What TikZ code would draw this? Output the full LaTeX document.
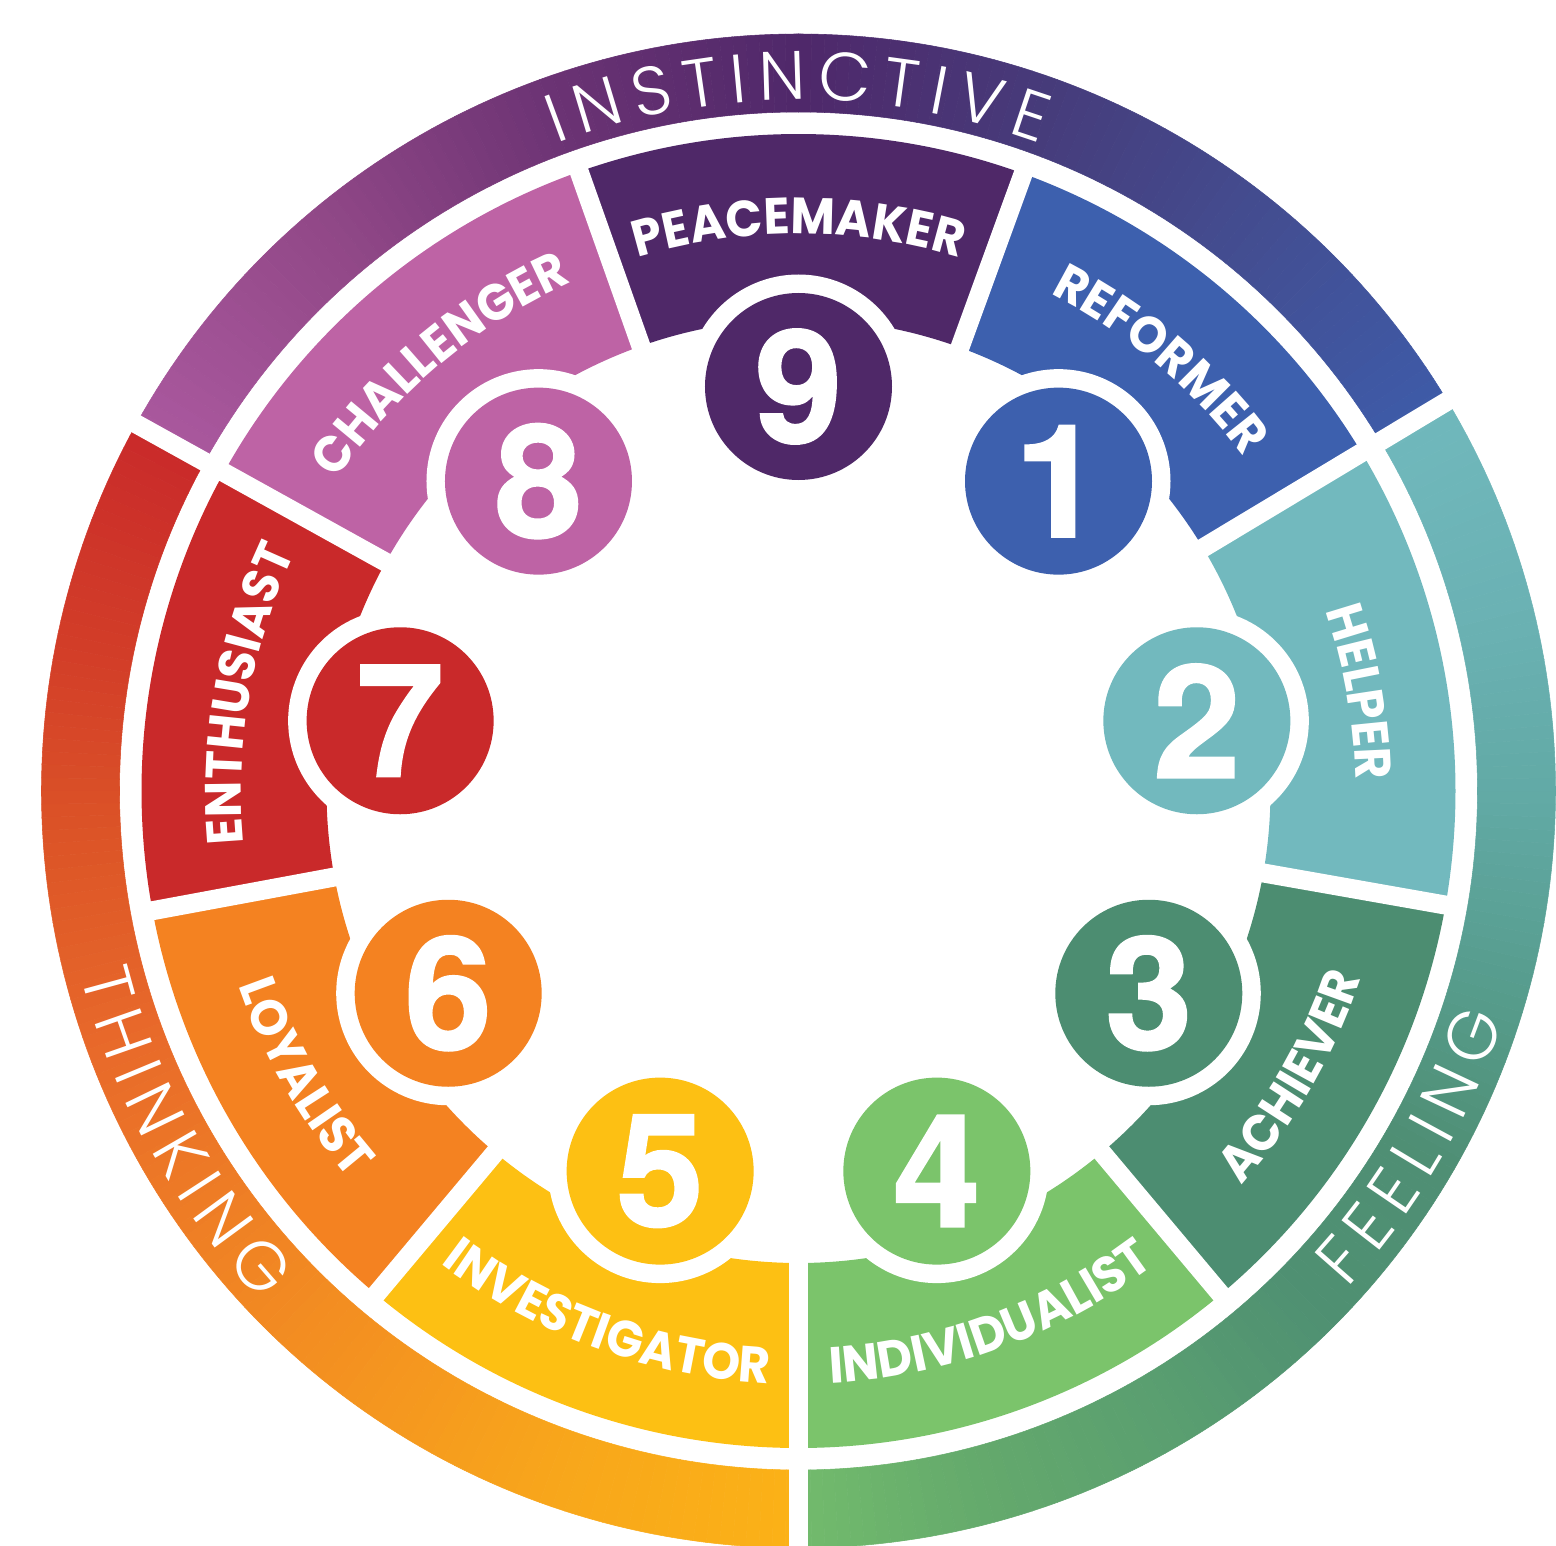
\documentclass[tikz,border=0pt]{standalone}
\usepackage{fontspec}
\usetikzlibrary{decorations.text}

\IfFontExistsTF{Poppins Bold}
  {\newfontfamily\segfont{Poppins Bold}[FakeStretch=0.95]}
  {\newfontfamily\segfont{Poppins}[FakeBold=1]}
\IfFontExistsTF{Poppins Light}
  {\newfontfamily\ringfont{Poppins Light}}
  {\newfontfamily\ringfont{Poppins}}
\newfontfamily\digitfont{texgyreheros-bold.otf}[FakeBold=1.5]

\newcommand\seglbl{\segfont\fontsize{29pt}{29pt}\selectfont}
\newcommand\ringlbl{\ringfont\fontsize{39pt}{39pt}\selectfont\kern2.2mm}
\newcommand\numfont{\digitfont\fontsize{89pt}{89pt}\selectfont}

% segment colours
\definecolor{peace}{HTML}{4F2868}
\definecolor{reform}{HTML}{3D60AE}
\definecolor{helper}{HTML}{72B9BE}
\definecolor{achieve}{HTML}{4C8D71}
\definecolor{individ}{HTML}{7BC46B}
\definecolor{investig}{HTML}{FDC013}
\definecolor{loyal}{HTML}{F48221}
\definecolor{enthus}{HTML}{C9292A}
\definecolor{challeng}{HTML}{BE63A5}
% outer ring stops
\definecolor{insA}{HTML}{AA589E}
\definecolor{insB}{HTML}{914887}
\definecolor{insC}{HTML}{6C3374}
\definecolor{insD}{HTML}{4F286A}
\definecolor{insE}{HTML}{463C7B}
\definecolor{insF}{HTML}{434E92}
\definecolor{insG}{HTML}{3E5BA8}
\definecolor{thkA}{HTML}{C92A2A}
\definecolor{thkB}{HTML}{D33F28}
\definecolor{thkC}{HTML}{DD5627}
\definecolor{thkD}{HTML}{E8692A}
\definecolor{thkE}{HTML}{F28A22}
\definecolor{thkF}{HTML}{F8A61B}
\definecolor{thkG}{HTML}{FBB217}
\definecolor{felA}{HTML}{72BB6C}
\definecolor{felB}{HTML}{64A96C}
\definecolor{felC}{HTML}{5A9F70}
\definecolor{felD}{HTML}{4F9072}
\definecolor{felE}{HTML}{4F8F74}
\definecolor{felF}{HTML}{579D8E}
\definecolor{felG}{HTML}{62AAA6}
\definecolor{felH}{HTML}{6BB2B4}
\definecolor{felI}{HTML}{70B8BC}

% radii (px)
\def\rRi{679}
\def\rRo{757}
\def\rSi{472}
\def\rSo{657}
\def\rN{404.5}

% angular gradient piece of the outer ring
\newcommand\ringgrad[4]{%
  \pgfmathtruncatemacro\gn{max(1,abs((#2)-(#1)))}
  \foreach \k in {1,...,\gn}{
    \pgfmathsetmacro\ga{(#1)+((#2)-(#1))*(\k-1)/\gn}
    \pgfmathsetmacro\gb{(#1)+((#2)-(#1))*\k/\gn}
    \pgfmathtruncatemacro\gp{100*(\k-0.5)/\gn}
    \colorlet{gcol}{#4!\gp!#3}
    \fill[gcol, draw=gcol, line width=0.3pt] (\ga:\rRi)
      arc[start angle=\ga, end angle=\gb, radius=\rRi] -- (\gb:\rRo)
      arc[start angle=\gb, end angle=\ga, radius=\rRo] -- cycle;
  }}

\begin{document}
\begin{tikzpicture}[x=0.2mm, y=0.2mm,
  gapline/.style={draw=white, line width=3.8mm},
  numdisc/.style={circle, minimum size=37.4mm, inner sep=0pt, text=white, font=\numfont},
  uplabel/.style={decorate, decoration={text along path, text align=center,
                  text color=white, text={|\seglbl|#1}}},
  downlabel/.style={uplabel=#1},
  ringlabel/.style={decorate, decoration={text along path, text align=center,
                    text color=white, text={|\ringlbl|#1}}}
]
\useasboundingbox (-798.5,-755) rectangle (757.5,791);

% outer ring
\ringgrad{151}{130}{insA}{insB}
\ringgrad{130}{110}{insB}{insC}
\ringgrad{110}{90}{insC}{insD}
\ringgrad{90}{70}{insD}{insE}
\ringgrad{70}{50}{insE}{insF}
\ringgrad{50}{31}{insF}{insG}
\ringgrad{151}{170}{thkA}{thkB}
\ringgrad{170}{185}{thkB}{thkC}
\ringgrad{185}{200}{thkC}{thkD}
\ringgrad{200}{225}{thkD}{thkE}
\ringgrad{225}{250}{thkE}{thkF}
\ringgrad{250}{270}{thkF}{thkG}
\ringgrad{-90}{-75}{felA}{felB}
\ringgrad{-75}{-60}{felB}{felC}
\ringgrad{-60}{-45}{felC}{felD}
\ringgrad{-45}{-30}{felD}{felE}
\ringgrad{-30}{-15}{felE}{felF}
\ringgrad{-15}{0}{felF}{felG}
\ringgrad{0}{15}{felG}{felH}
\ringgrad{15}{31}{felH}{felI}

% segments
\foreach \n/\sa/\sb/\c in {9/70/109.5/peace, 1/31/70/reform, 2/-10/31/helper,
    3/-50/-10/achieve, 4/-90/-50/individ, 5/-130/-90/investig,
    6/-169.5/-130/loyal, 7/151/190.5/enthus, 8/109.5/151/challeng}
  \fill[\c] (\sa:\rSi) arc[start angle=\sa, end angle=\sb, radius=\rSi]
    -- (\sb:\rSo) arc[start angle=\sb, end angle=\sa, radius=\rSo] -- cycle;

% white halos and gaps
\foreach \n in {1,...,9}
  \fill[white] ({90-40*\n}:\rN) circle[radius=112];
\foreach \g in {70,31,-10,-50,-90,-130,-169.5,151,109.5}
  \draw[gapline] (\g:455) -- (\g:668);
\foreach \g in {31,-90,151}
  \draw[gapline] (\g:660) -- (\g:775);

% number discs
\foreach \n/\c in {1/reform, 2/helper, 3/achieve, 4/individ, 5/investig,
    6/loyal, 7/enthus, 8/challeng, 9/peace}
  \node[numdisc, fill=\c] (num\n) at ({90-40*\n}:\rN) {\n};

% type labels
\path[uplabel=PEACEMAKER] (120:557) arc[start angle=120, end angle=60, radius=557];
\path[uplabel=REFORMER] (80:557) arc[start angle=80, end angle=20, radius=557];
\path[uplabel=HELPER] (40:557) arc[start angle=40, end angle=-20, radius=557];
\path[uplabel=ENTHUSIAST] (200:557) arc[start angle=200, end angle=140, radius=557];
\path[uplabel=CHALLENGER] (160:557) arc[start angle=160, end angle=100, radius=557];
\path[downlabel=ACHIEVER] (-60:593) arc[start angle=-60, end angle=0, radius=593];
\path[downlabel=INDIVIDUALIST] (-100:593) arc[start angle=-100, end angle=-40, radius=593];
\path[downlabel=INVESTIGATOR] (-140:593) arc[start angle=-140, end angle=-80, radius=593];
\path[downlabel=LOYALIST] (-180:593) arc[start angle=-180, end angle=-120, radius=593];

% centre labels
\path[ringlabel=INSTINCTIVE] (130.5:691) arc[start angle=130.5, end angle=50.5, radius=691];
\path[ringlabel=FEELING] (-70.5:741) arc[start angle=-70.5, end angle=9.5, radius=741];
\path[ringlabel=THINKING] (-191.5:741) arc[start angle=-191.5, end angle=-111.5, radius=741];

\end{tikzpicture}
\end{document}
